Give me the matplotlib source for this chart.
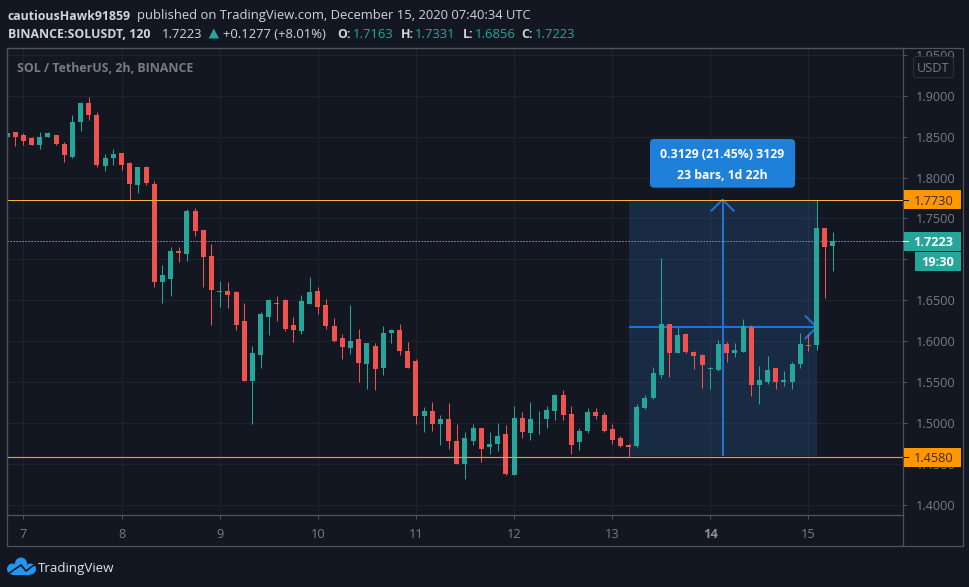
import matplotlib
matplotlib.use("Agg")
import matplotlib.pyplot as plt
from matplotlib.patches import Rectangle, FancyBboxPatch, Circle, Polygon

plt.rcParams['font.family'] = ['Open Sans', 'DejaVu Sans']

first_bar = -2
opens = [1.8490,1.8551,1.8526,1.8478,1.8392,1.8490,1.8526,1.8416,1.8257,1.8685,1.8906,1.8771,
         1.8147,1.8233,1.8306,1.8172,1.7903,1.8123,1.7927,1.6728,1.6753,1.7107,1.7059,1.7585,
         1.7364,1.7046,1.6594,1.6606,1.6594,1.6251,1.5517,1.5823,1.6288,1.6471,1.6496,1.6202,
         1.6117,1.6447,1.6606,1.6435,1.6178,1.6043,1.5909,1.6019,1.5713,1.5933,1.5664,1.6104,
         1.6129,1.5884,1.5750,1.5077,1.5138,1.4979,1.5052,1.4783,1.4490,1.4783,1.4930,1.4698,
         1.4746,1.4857,1.4367,1.5064,1.4869,1.5040,1.5052,1.5150,1.5334,1.5113,1.4759,1.4905,
         1.5126,1.5089,1.4918,1.4808,1.4722,1.4710,1.5175,1.5298,1.5579,1.6203,1.5848,1.6081,
         1.5860,1.5824,1.5652,1.5640,1.5958,1.5848,1.5860,1.6166,1.5457,1.5493,1.5665,1.5493,
         1.5493,1.5714,1.5946,1.5946,1.7377,1.7163]
highs = [1.8539,1.8551,1.8539,1.8490,1.8551,1.8551,1.8526,1.8429,1.8771,1.8930,1.8991,1.8804,
         1.8294,1.8343,1.8306,1.8196,1.8135,1.8147,1.7952,1.6924,1.7156,1.7156,1.7621,1.7633,
         1.7364,1.7181,1.6740,1.6716,1.6606,1.6471,1.5933,1.6349,1.6508,1.6545,1.6508,1.6288,
         1.6557,1.6789,1.6667,1.6508,1.6276,1.6080,1.6435,1.6153,1.5970,1.5970,1.6178,1.6141,
         1.6214,1.5982,1.5786,1.5187,1.5248,1.5089,1.5236,1.4991,1.4881,1.4991,1.4930,1.4893,
         1.5003,1.4967,1.5199,1.5126,1.5248,1.5150,1.5199,1.5346,1.5395,1.5199,1.4930,1.5175,
         1.5175,1.5126,1.4991,1.4832,1.4746,1.5224,1.5334,1.5677,1.7010,1.6203,1.6166,1.6093,
         1.5873,1.5836,1.5677,1.6007,1.5983,1.5970,1.6264,1.6191,1.5689,1.5811,1.5665,1.5628,
         1.5738,1.6093,1.6081,1.7730,1.7377,1.7331]
lows = [1.8490,1.8380,1.8392,1.8392,1.8343,1.8490,1.8392,1.8196,1.8245,1.8575,1.8698,1.8135,
        1.8086,1.8159,1.8098,1.7727,1.7805,1.7903,1.6655,1.6471,1.6545,1.6961,1.6973,1.7279,
        1.6655,1.6202,1.6422,1.6398,1.6129,1.5505,1.4991,1.5664,1.6068,1.6251,1.6117,1.5994,
        1.6092,1.6447,1.6325,1.6141,1.5994,1.5786,1.5847,1.5493,1.5407,1.5395,1.5590,1.5970,
        1.5835,1.5676,1.4991,1.4881,1.4905,1.4734,1.4673,1.4490,1.4318,1.4734,1.4526,1.4624,
        1.4649,1.4367,1.4355,1.4808,1.4795,1.4857,1.4942,1.5028,1.5028,1.4624,1.4661,1.4869,
        1.5052,1.4881,1.4746,1.4698,1.4580,1.4698,1.5163,1.5285,1.5542,1.5555,1.5848,1.5848,
        1.5652,1.5420,1.5408,1.5628,1.5738,1.5799,1.5860,1.5322,1.5224,1.5469,1.5408,1.5444,
        1.5408,1.5665,1.5873,1.5885,1.6521,1.6856]
closes = [1.8539,1.8502,1.8453,1.8392,1.8502,1.8539,1.8416,1.8270,1.8685,1.8906,1.8771,1.8159,
          1.8245,1.8282,1.8159,1.7915,1.8135,1.7939,1.6716,1.6802,1.7107,1.7071,1.7585,1.7352,
          1.7022,1.6630,1.6618,1.6569,1.6202,1.5505,1.5848,1.6325,1.6496,1.6459,1.6153,1.6129,
          1.6484,1.6594,1.6422,1.6178,1.6006,1.5921,1.6006,1.5737,1.5970,1.5652,1.6104,1.6129,
          1.5872,1.5676,1.5077,1.5150,1.4979,1.5040,1.4783,1.4490,1.4808,1.4942,1.4685,1.4746,
          1.4832,1.4379,1.5064,1.4881,1.5052,1.5052,1.5162,1.5334,1.5101,1.4734,1.4905,1.5126,
          1.5077,1.4905,1.4795,1.4710,1.4698,1.5188,1.5298,1.5603,1.6203,1.5848,1.6068,1.5860,
          1.5811,1.5701,1.5665,1.5958,1.5848,1.5885,1.6178,1.5457,1.5518,1.5640,1.5493,1.5518,
          1.5714,1.5958,1.5934,1.7377,1.7145,1.7223]

day_bars = [0, 12, 24, 36, 48, 60, 72, 84, 96]
day_labels = ['7', '8', '9', '10', '11', '12', '13', '14', '15']
price_ticks = [1.40, 1.45, 1.50, 1.55, 1.60, 1.65, 1.70, 1.75, 1.80, 1.85, 1.90, 1.95]
level_high = 1.7730
level_low = 1.4580
last_price = 1.7223
entry_price = 1.6169
tool_start = 74
tool_end = 97

BG = '#131722'; GRID = '#1e222d'; FRAME = '#50535e'; TXT = '#787b86'; WHITE = '#d1d4dc'
UP = '#26a69a'; DOWN = '#ef5350'; ORANGE = '#ff9800'; BLUE = '#1f72d0'

W, H = 970, 587
fig = plt.figure(figsize=(W/100, H/100), dpi=100, facecolor=BG)
L, R, T, B = 7.5, 903.3, 48.3, 515.3
ax = fig.add_axes([L/W, 1-B/H, (R-L)/W, (B-T)/H], facecolor=BG)
ax.set_xlim(-1.944, 107.6)
ax.set_ylim(1.3868, 1.9581)

ax.set_axisbelow(True)
ax.grid(True, color=GRID, lw=0.9)
ax.set_xticks(day_bars)
ax.set_xticklabels(day_labels)
ax.set_yticks(price_ticks)
ax.set_yticklabels([f'{p:.4f}' for p in price_ticks])
ax.yaxis.tick_right()
ax.tick_params(axis='y', length=3.2, width=0.72, color=FRAME, labelcolor=TXT, labelsize=9.2, pad=5.5)
ax.tick_params(axis='x', length=2.6, width=0.72, color=FRAME, labelcolor=TXT, labelsize=9.2, pad=6.5)
for lab, txt in zip(ax.get_xticklabels(), day_labels):
    if txt == '14':
        lab.set_fontweight('bold'); lab.set_color('#8a8d98'); lab.set_fontsize(9.4)
for s in ax.spines.values():
    s.set_color(FRAME); s.set_linewidth(0.9)
for lab in ax.get_yticklabels():
    lab.set_clip_on(False)

# position tool
ax.add_patch(Rectangle((tool_start, level_low+0.0015), tool_end-tool_start, level_high-level_low-0.0015,
                       facecolor='#3a8fe0', alpha=0.17, lw=0, zorder=1.5))
mid = (tool_start+tool_end)/2
wx, wy = 1.35, 0.0135
ax.plot([mid, mid], [level_low+0.0015, level_high], color=BLUE, lw=1.5, zorder=1.7, solid_capstyle='butt')
ax.plot([mid-wx, mid, mid+wx], [level_high-wy, level_high, level_high-wy], color=BLUE, lw=1.5, zorder=1.7)
ax.plot([tool_start, tool_end], [entry_price, entry_price], color=BLUE, lw=1.5, zorder=1.7, solid_capstyle='butt')
ax.plot([tool_end-wx, tool_end, tool_end-wx], [entry_price+wy, entry_price, entry_price-wy], color=BLUE, lw=1.5, zorder=1.7)

# last price dotted
ax.axhline(last_price, color='#2bd4c2', lw=0.72, ls=(0, (1.3, 1.7)), zorder=1.8)

# candles
xs = [first_bar+i for i in range(len(opens))]
cols = [UP if c >= o else DOWN for o, c in zip(opens, closes)]
ax.vlines(xs, lows, highs, colors=cols, lw=0.72, zorder=2)
ax.bar(xs, [c-o for o, c in zip(opens, closes)], bottom=opens, width=0.611, color=cols, lw=0, zorder=2.1)

# horizontal levels
ax.axhline(level_high, color='#ffb13b', lw=0.72, zorder=3)
ax.axhline(level_low, color=ORANGE, lw=0.85, zorder=3)

# overlay in pixels
ov = fig.add_axes([0, 0, 1, 1], zorder=10)
ov.set_xlim(0, W); ov.set_ylim(H, 0); ov.axis('off'); ov.patch.set_alpha(0)
fig.canvas.draw()
def ypx(p):
    return H - ax.transData.transform((0, p))[1]

ov.add_patch(Rectangle((7.5, 48.3), 955.2, 498, fill=False, ec=FRAME, lw=0.9))
ov.plot([R, R], [B, 546.3], color=FRAME, lw=0.9)

def t(x, y, s, color=WHITE, size=9.4, weight='normal', ha='left'):
    return ov.text(x, y, s, color=color, fontsize=size, fontweight=weight, ha=ha, va='center_baseline')

# header
t(7.6, 14.5, 'cautiousHawk91859', weight='bold', size=8.9)
t(137, 14.5, 'published on TradingView.com, December 15, 2020 07:40:34 UTC')
t(7.6, 33.5, 'BINANCE:SOLUSDT, 120', weight='bold', size=8.9)
t(161.5, 33.5, '1.7223')
ov.add_patch(Polygon([[208.6, 38.5], [219, 38.5], [213.8, 28.5]], color=UP, lw=0))
t(223, 33.5, '+0.1277 (+8.01%)')
for x1, lab, x2, val in [(337.5, 'O:', 353, '1.7163'), (400.7, 'H:', 415, '1.7331'),
                         (463, 'L:', 474.5, '1.6856'), (521, 'C:', 534.6, '1.7223')]:
    t(x1, 33.5, lab, weight='bold', size=8.9)
    t(x2, 33.5, val, color=UP)
t(17, 67.5, 'SOL / TetherUS, 2h, BINANCE', color=TXT, weight='bold', size=8.9)

# USDT button
ov.add_patch(FancyBboxPatch((915, 58), 37, 18, boxstyle='round,pad=1.5,rounding_size=3',
                            fc=BG, ec='#2a2e39', lw=0.9))
t(933.5, 66.5, 'USDT', color=TXT, size=9.2, ha='center')

# price boxes
def pbox(price, fc, tc, label, weight='normal', tick='#131722'):
    y = ypx(price)
    ov.add_patch(Rectangle((R+0.3, y-9.5), 57.4, 19, fc=fc, lw=0))
    ov.plot([R, R+4.5], [y, y], color=tick, lw=0.72)
    t(913.5, y+0.2, label, color=tc, size=9.2, weight=weight)
pbox(level_high, ORANGE, '#3a2a10', f'{level_high:.4f}')
pbox(level_low, ORANGE, '#3a2a10', f'{level_low:.4f}')
pbox(last_price, UP, '#ffffff', f'{last_price:.4f}', weight='bold', tick='#ffffff')
y_last = ypx(last_price)
ov.add_patch(Rectangle((915, y_last+10.7), 46, 19, fc=UP, lw=0))
t(938, y_last+20.2, '19:30', color='#ffffff', size=9.2, weight='bold', ha='center')

# measure label
ov.add_patch(FancyBboxPatch((653, 142), 139, 42.7, boxstyle='round,pad=3,rounding_size=4', fc='#1e80d8', lw=0))
t(722.5, 152.7, '0.3129 (21.45%) 3129', color='#ffffff', size=8.8, weight='bold', ha='center')
t(722.5, 174.3, '23 bars, 1d 22h', color='#ffffff', size=8.8, weight='bold', ha='center')

# logo
LOGO = '#2196f3'
for cx, cy, r in [(12.5, 569, 5.5), (21, 563.5, 6), (30.5, 569, 5.5)]:
    ov.add_patch(Circle((cx, cy), r, fc=LOGO, lw=0))
ov.add_patch(Rectangle((12.5, 567), 18, 7.7, fc=LOGO, lw=0))
ov.plot([8, 21, 26, 34], [574, 565, 571, 565], color=BG, lw=1.2)
t(38, 566.8, 'TradingView', color='#e0e3eb', size=9.6)

fig.savefig('out.png', dpi=100, facecolor=BG)
